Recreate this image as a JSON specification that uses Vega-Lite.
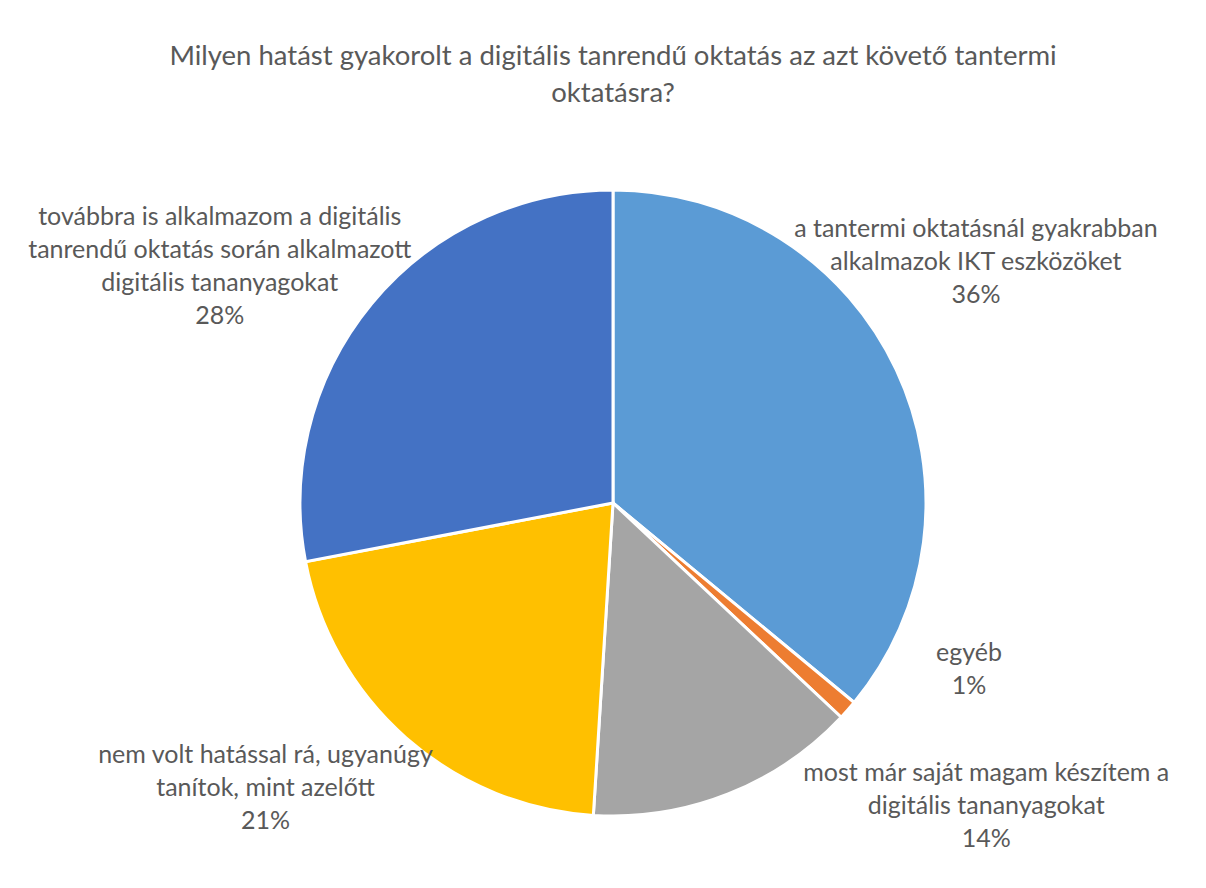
{
  "$schema": "https://vega.github.io/schema/vega-lite/v6.json",
  "width": 1186,
  "height": 770,
  "autosize": {"type": "none"},
  "padding": {"left": 20, "top": 118, "right": 0, "bottom": 0},
  "background": "white",
  "config": {"view": {"stroke": null}},
  "title": {
    "text": ["Milyen hatást gyakorolt a digitális tanrendű oktatás az azt követő tantermi", "oktatásra?"],
    "font": "Lato",
    "fontSize": 27.5,
    "fontWeight": "normal",
    "color": "#595959",
    "anchor": "middle",
    "lineHeight": 37,
    "offset": 11
  },
  "data": {
    "values": [
      {"order": 1, "category": "a tantermi oktatásnál gyakrabban alkalmazok IKT eszközöket", "value": 36, "label": "a tantermi oktatásnál gyakrabban\nalkalmazok IKT eszközöket\n36%"},
      {"order": 2, "category": "egyéb", "value": 1, "label": "egyéb\n1%"},
      {"order": 3, "category": "most már saját magam készítem a digitális tananyagokat", "value": 14, "label": "most már saját magam készítem a\ndigitális tananyagokat\n14%"},
      {"order": 4, "category": "nem volt hatással rá, ugyanúgy tanítok, mint azelőtt", "value": 21, "label": "nem volt hatással rá, ugyanúgy\ntanítok, mint azelőtt\n21%"},
      {"order": 5, "category": "továbbra is alkalmazom a digitális tanrendű oktatás során alkalmazott digitális tananyagokat", "value": 28, "label": "továbbra is alkalmazom a digitális\ntanrendű oktatás során alkalmazott\ndigitális tananyagokat\n28%"}
    ]
  },
  "encoding": {
    "theta": {"field": "value", "type": "quantitative", "stack": true},
    "order": {"field": "order", "type": "quantitative"}
  },
  "layer": [
    {
      "mark": {"type": "arc", "outerRadius": 313, "stroke": "white", "strokeWidth": 3},
      "encoding": {
        "color": {
          "field": "category",
          "type": "nominal",
          "sort": {"field": "order"},
          "scale": {
            "domain": [
              "a tantermi oktatásnál gyakrabban alkalmazok IKT eszközöket",
              "egyéb",
              "most már saját magam készítem a digitális tananyagokat",
              "nem volt hatással rá, ugyanúgy tanítok, mint azelőtt",
              "továbbra is alkalmazom a digitális tanrendű oktatás során alkalmazott digitális tananyagokat"
            ],
            "range": ["#5B9BD5", "#ED7D31", "#A5A5A5", "#FFC000", "#4472C4"]
          },
          "legend": null
        }
      }
    },
    {
      "mark": {"type": "text", "radius": 400, "dx": 1, "dy": -104, "font": "Lato", "fontSize": 25, "color": "#595959", "lineBreak": "\n", "lineHeight": 33, "align": "center", "baseline": "middle"},
      "encoding": {"text": {"condition": {"test": "datum.order == 1", "field": "label", "type": "nominal"}, "value": ""}}
    },
    {
      "mark": {"type": "text", "radius": 400, "dx": 56, "dy": -115, "font": "Lato", "fontSize": 25, "color": "#595959", "lineBreak": "\n", "lineHeight": 33, "align": "center", "baseline": "middle"},
      "encoding": {"text": {"condition": {"test": "datum.order == 2", "field": "label", "type": "nominal"}, "value": ""}}
    },
    {
      "mark": {"type": "text", "radius": 400, "dx": 226, "dy": -102, "font": "Lato", "fontSize": 25, "color": "#595959", "lineBreak": "\n", "lineHeight": 33, "align": "center", "baseline": "middle"},
      "encoding": {"text": {"condition": {"test": "datum.order == 3", "field": "label", "type": "nominal"}, "value": ""}}
    },
    {
      "mark": {"type": "text", "radius": 400, "dx": -83, "dy": -48, "font": "Lato", "fontSize": 25, "color": "#595959", "lineBreak": "\n", "lineHeight": 33, "align": "center", "baseline": "middle"},
      "encoding": {"text": {"condition": {"test": "datum.order == 4", "field": "label", "type": "nominal"}, "value": ""}}
    },
    {
      "mark": {"type": "text", "radius": 400, "dx": -85, "dy": -31, "font": "Lato", "fontSize": 25, "color": "#595959", "lineBreak": "\n", "lineHeight": 33, "align": "center", "baseline": "middle"},
      "encoding": {"text": {"condition": {"test": "datum.order == 5", "field": "label", "type": "nominal"}, "value": ""}}
    }
  ]
}
